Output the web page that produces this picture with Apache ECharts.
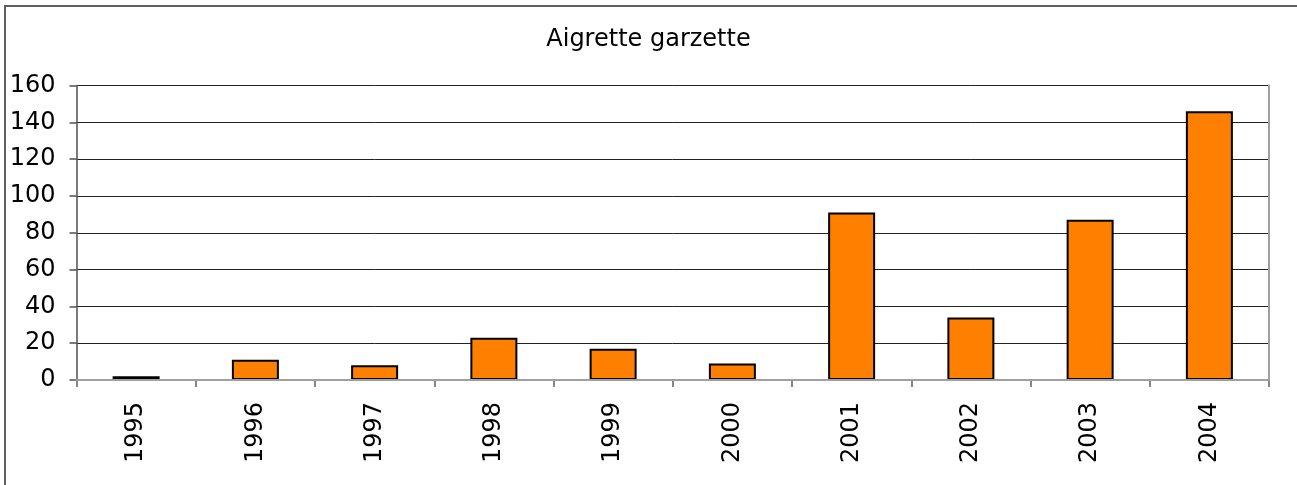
<!DOCTYPE html>
<html><head><meta charset="utf-8">
<script src="https://cdn.jsdelivr.net/npm/echarts@6/dist/echarts.min.js"></script>
<style>html,body{margin:0;padding:0;background:#fff;overflow:hidden}#c{width:1297px;height:485px}</style>
</head><body><div id="c"></div>
<script>
const titleText = 'Aigrette garzette';
const categories = ['1995','1996','1997','1998','1999','2000','2001','2002','2003','2004'];
const values = [2, 11, 8, 23, 17, 9, 91, 34, 87, 146];
const yTicks = {min: 0, max: 160, interval: 20};

const chart = echarts.init(document.getElementById('c'), null, {renderer: 'canvas'});
const font = 'DejaVu Sans, Verdana, sans-serif';
chart.setOption({
  animation: false,
  backgroundColor: '#fff',
  title: {
    text: titleText, left: 'center', top: 23,
    textStyle: {fontFamily: font, fontSize: 24, fontWeight: 'normal', color: '#000'}
  },
  graphic: [
    {type: 'line', z: 0, shape: {x1: 4, y1: 6, x2: 1310, y2: 6}, style: {stroke: '#606060', lineWidth: 2}},
    {type: 'line', z: 0, shape: {x1: 5, y1: 5, x2: 5, y2: 500}, style: {stroke: '#606060', lineWidth: 2}}
  ],
  grid: {left: 76.5, right: 28, top: 85.5, bottom: 105, containLabel: false},
  xAxis: [{
    type: 'category', data: categories,
    axisLine: {lineStyle: {color: '#808080', width: 1.5}},
    axisTick: {show: true, length: 7, lineStyle: {color: '#606060', width: 1.5}},
    axisLabel: {rotate: 90, margin: 22, fontFamily: font, fontSize: 24, color: '#000'}
  }, {
    type: 'category', data: categories, position: 'top',
    axisLine: {show: true, lineStyle: {color: '#a0a0a0', width: 2}},
    axisTick: {show: false}, axisLabel: {show: false}, z: 5
  }],
  yAxis: [{
    type: 'value', min: yTicks.min, max: yTicks.max, interval: yTicks.interval,
    axisLine: {show: true, lineStyle: {color: '#505050', width: 1.5}},
    axisTick: {show: true, length: 7, lineStyle: {color: '#505050', width: 1.5}},
    axisLabel: {margin: 21, fontFamily: font, fontSize: 24, color: '#000'},
    splitLine: {lineStyle: {color: '#222', width: 1}}
  }, {
    type: 'value', min: yTicks.min, max: yTicks.max, interval: yTicks.interval, position: 'right',
    axisLine: {show: true, lineStyle: {color: '#a0a0a0', width: 2}},
    axisTick: {show: false}, axisLabel: {show: false}, splitLine: {show: false}
  }],
  series: [{
    type: 'bar', data: values, barWidth: 47,
    itemStyle: {color: '#ff8000', borderColor: '#000', borderWidth: 2}
  }]
});
</script></body></html>
